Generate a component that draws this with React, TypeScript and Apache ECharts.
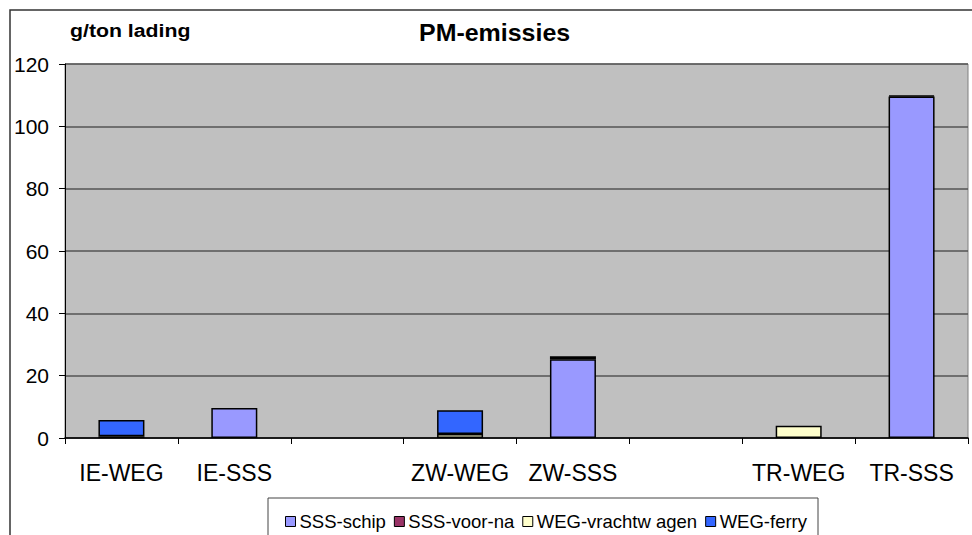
import React, { useEffect, useRef } from "react";
import * as echarts from "echarts";

const categories = ["IE-WEG", "IE-SSS", "", "ZW-WEG", "ZW-SSS", " ", "TR-WEG", "TR-SSS"];
const sssSchip = [null, 9.6, null, null, 25.3, null, null, 109.6];
const sssVoorNa = [null, null, null, null, 0.9, null, null, 0.3];
const wegVrachtwagen = [0.6, null, null, 1.3, null, null, 3.9, null];
const wegFerry = [5.2, null, null, 7.6, null, null, null, null];
const yTicks = { min: 0, max: 120, interval: 20 };

const FONT = "'Liberation Sans', Arial, sans-serif";

export default function App() {
  const ref = useRef<HTMLDivElement>(null);
  useEffect(() => {
    if (!ref.current) return;
    const chart = echarts.init(ref.current, null, { renderer: "svg" });
    const mk = (name: string, data: (number | null)[], color: string) => ({
      name,
      type: "bar",
      stack: "total",
      data: data.map((v) => (v == null ? "-" : v)),
      barWidth: 46,
      itemStyle: { color, borderColor: "#000", borderWidth: 1.5 },
      emphasis: { disabled: true },
    });
    chart.setOption({
      animation: false,
      textStyle: { fontFamily: FONT },
      graphic: [
        {
          type: "rect",
          shape: { x: 10, y: 10, width: 1000, height: 600 },
          style: { fill: "none", stroke: "#333", lineWidth: 1.5 },
          z: -10,
        },
        {
          type: "rect",
          shape: { x: 268, y: 498, width: 550, height: 60 },
          style: { fill: "#fff", stroke: "#444", lineWidth: 1 },
          z: -5,
        },
        {
          type: "text",
          x: 70,
          y: 30,
          scaleX: 1.12,
          style: {
            text: "g/ton lading",
            font: `bold 19px ${FONT}`,
            fill: "#000",
            textVerticalAlign: "middle",
          },
        },
        {
          type: "text",
          x: 419,
          y: 33,
          scaleX: 1.04,
          style: {
            text: "PM-emissies",
            font: `bold 24px ${FONT}`,
            fill: "#000",
            textVerticalAlign: "middle",
          },
        },
      ],
      legend: {
        left: 280,
        top: 507,
        itemWidth: 10,
        itemHeight: 10,
        itemGap: 8,
        icon: "rect",
        textStyle: { fontFamily: FONT, fontSize: 18.5, color: "#000", padding: [0, 0, 0, -1] },
        data: ["SSS-schip", "SSS-voor-na", "WEG-vrachtw agen", "WEG-ferry"],
        itemStyle: { borderColor: "#000", borderWidth: 1 },
      },
      grid: {
        left: 65,
        right: 4,
        top: 64,
        bottom: 97,
        show: true,
        backgroundColor: "#C0C0C0",
        borderColor: "#808080",
        borderWidth: 1,
      },
      xAxis: {
        type: "category",
        data: categories,
        axisLine: { lineStyle: { color: "#000", width: 1.5 } },
        axisTick: { show: true, alignWithLabel: false, interval: 0, length: 6, lineStyle: { color: "#000" } },
        axisLabel: { interval: 0, fontSize: 23, color: "#000", margin: 23, fontFamily: FONT },
      },
      yAxis: {
        type: "value",
        min: yTicks.min,
        max: yTicks.max,
        interval: yTicks.interval,
        axisLine: { show: true, lineStyle: { color: "#000", width: 1 } },
        axisTick: { show: true, length: 6, lineStyle: { color: "#000" } },
        axisLabel: { fontSize: 21, color: "#000", margin: 16, fontFamily: FONT },
        splitLine: { lineStyle: { color: "#555", width: 1.5 } },
      },
      series: [
        mk("SSS-schip", sssSchip, "#9999FF"),
        mk("SSS-voor-na", sssVoorNa, "#993366"),
        mk("WEG-vrachtw agen", wegVrachtwagen, "#FFFFCC"),
        mk("WEG-ferry", wegFerry, "#3366FF"),
      ],
    });
    return () => chart.dispose();
  }, []);
  return <div ref={ref} style={{ width: 972, height: 535, position: "absolute", left: 0, top: 0 }} />;
}
